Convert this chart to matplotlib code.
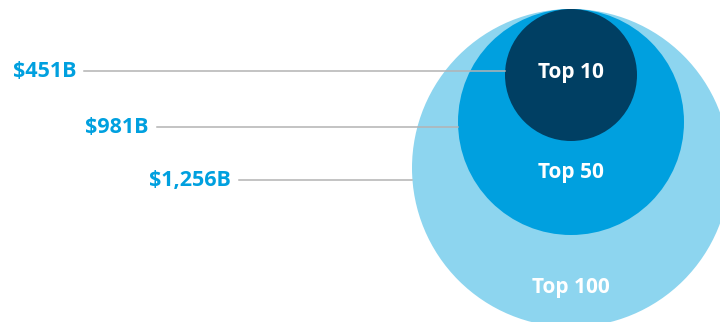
import matplotlib.pyplot as plt
from matplotlib.patches import Circle

plt.rcParams["font.family"] = ["Open Sans", "DejaVu Sans"]

# data
groups = ["Top 10", "Top 50", "Top 100"]
values = ["$451B", "$981B", "$1,256B"]
colors = ["#003f63", "#00a0df", "#8dd5ef"]

# geometry in pixel units
cx = 571
tops = 9
radii = [66, 113, 159]
label_right = [76, 149, 231]
line_start = [84, 157, 239]
line_y = [71, 127, 180]
group_y = [72, 172, 287]

fig = plt.figure(figsize=(7.2, 3.22), dpi=100)
ax = fig.add_axes([0, 0, 1, 1])
ax.set_xlim(0, 720)
ax.set_ylim(322, 0)
ax.set_aspect("equal")
ax.axis("off")

# largest circle first so smaller sit on top
for i in reversed(range(len(groups))):
    r = radii[i]
    ax.add_patch(Circle((cx, tops + r), r, color=colors[i], lw=0, zorder=1 + (2 - i)))

for i in range(len(groups)):
    r = radii[i]
    cy = tops + r
    dy = line_y[i] - cy
    x_end = cx - (r**2 - dy**2) ** 0.5
    ax.plot([line_start[i], x_end], [line_y[i], line_y[i]], color="#b3b3b3", lw=1.1, zorder=5)
    ax.text(label_right[i], line_y[i], values[i].replace("$", r"\$"), ha="right", va="center",
            color="#00a0df", fontsize=15.5, fontweight="bold")
    ax.text(cx, group_y[i], groups[i], ha="center", va="center",
            color="white", fontsize=15, fontweight="bold", zorder=10)

fig.savefig("out.png", dpi=100)
